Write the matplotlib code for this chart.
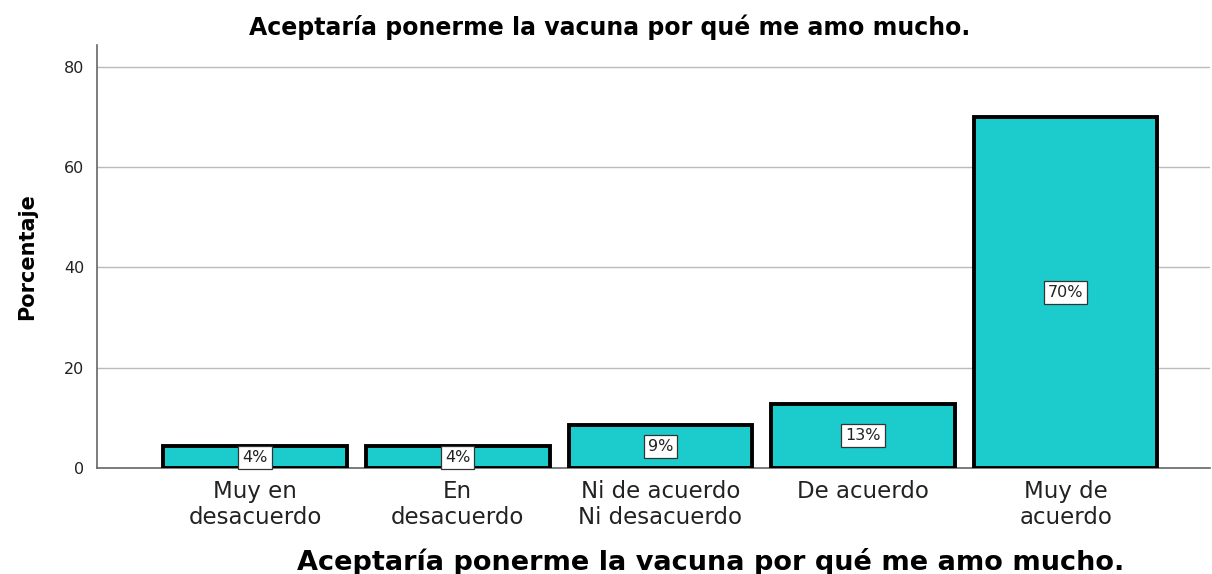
import matplotlib
matplotlib.use("Agg")
import matplotlib.pyplot as plt

categories = ["Muy en\ndesacuerdo", "En\ndesacuerdo", "Ni de acuerdo\nNi desacuerdo", "De acuerdo", "Muy de\nacuerdo"]
values = [4.3, 4.3, 8.5, 12.8, 70.1]
labels = ["4%", "4%", "9%", "13%", "70%"]
yticks = [0, 20, 40, 60, 80]
title = "Aceptaría ponerme la vacuna por qué me amo mucho."

plt.rcParams['font.family'] = ['DejaVu Sans']

fig = plt.figure(figsize=(12.12, 5.74), dpi=100)
ax = fig.add_axes([0.080, 0.1847, 0.918, 0.737])

x = list(range(len(categories)))
ax.bar(x, values, width=0.906, color="#1ccccc", edgecolor="black", linewidth=2.8, zorder=3)
for xi, v, lab in zip(x, values, labels):
    ax.text(xi, v / 2, lab, ha="center", va="center", fontsize=11.5, color="#222222", zorder=4,
            bbox=dict(boxstyle="square,pad=0.25", facecolor="white", edgecolor="#333333", linewidth=0.9))

ax.set_xlim(-0.78, 4.71)
ax.set_ylim(0, 84.4)
ax.set_yticks(yticks)
ax.set_xticks(x)
ax.set_xticklabels(categories, fontsize=16.5, color="#222222", linespacing=1.15)
ax.tick_params(axis="x", length=0, pad=9)
ax.tick_params(axis="y", length=0, pad=9, labelsize=11.5, labelcolor="#222222")
ax.grid(axis="y", color="#bbbbbb", linewidth=1, zorder=0)
for s in ["top", "right"]:
    ax.spines[s].set_visible(False)
ax.spines["left"].set_color("#666666")
ax.spines["bottom"].set_color("#666666")
ax.spines["left"].set_linewidth(1.2)
ax.spines["bottom"].set_linewidth(1.2)

ax.set_ylabel("Porcentaje", fontsize=15, fontweight="bold")
ax.yaxis.set_label_coords(-0.054, 0.5)
ax.set_xlabel(title, fontsize=19.5, fontweight="bold", va="center")
ax.xaxis.set_label_coords(0.552, -0.222)
fig.text(0.503, 0.953, title, ha="center", va="center", fontsize=17, fontweight="bold")

fig.savefig("out.png", dpi=100)
